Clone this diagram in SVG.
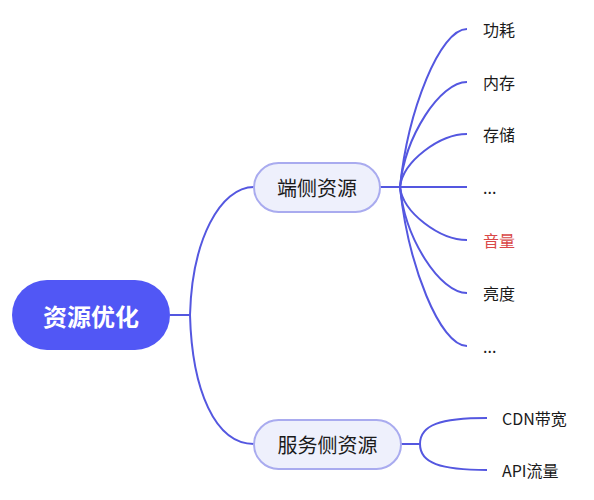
<svg xmlns="http://www.w3.org/2000/svg" width="594" height="500" viewBox="0 0 594 500">
<style>
text{font-family:"Noto Sans CJK SC","Noto Sans",sans-serif;dominant-baseline:central;}
.line{fill:none;stroke:#5457e0;stroke-width:2;}
.branch{fill:#eef0fc;stroke:#a9abef;stroke-width:2;}
.bt{font-size:20px;fill:#1a1a1a;text-anchor:middle;}
.leaf{font-size:16px;fill:#1a1a1a;}
</style>
<rect width="594" height="500" fill="#ffffff"/>
<g id="connectors">
<path class="line" d="M170,315 H190"/>
<path class="line" d="M190,315 C192,240 220,187 254,187"/>
<path class="line" d="M190,315 C192,390 215,444 254,444"/>
<path class="line" d="M380,187 H400"/>
<path class="line" d="M400,187 C408,110 440,29 467,29"/>
<path class="line" d="M400,187 C405,136 440,82 467,82"/>
<path class="line" d="M400,187 C403,161 440,134 467,134"/>
<path class="line" d="M400,187 H467"/>
<path class="line" d="M400,187 C403,213 440,240 467,240"/>
<path class="line" d="M400,187 C405,239 440,293 467,293"/>
<path class="line" d="M400,187 C408,265 440,346 467,346"/>
<path class="line" d="M401,444 H420"/>
<path class="line" d="M420,444 C420,425 440,418 487,418"/>
<path class="line" d="M420,444 C420,463 440,470 487,470"/>
</g>
<g id="root">
<rect x="12" y="280" width="158" height="70" rx="35" fill="#5157f5"/>
<text x="91" y="315" font-size="24" font-weight="bold" fill="#ffffff" text-anchor="middle">资源优化</text>
</g>
<g id="client">
<rect class="branch" x="254" y="163" width="126" height="49" rx="24.5"/>
<text class="bt" x="317" y="187.5">端侧资源</text>
</g>
<g id="server">
<rect class="branch" x="254" y="420" width="147" height="49" rx="24.5"/>
<text class="bt" x="327.5" y="444.5">服务侧资源</text>
</g>
<g id="leaf-power"><text class="leaf" x="483" y="29">功耗</text></g>
<g id="leaf-memory"><text class="leaf" x="483" y="82">内存</text></g>
<g id="leaf-storage"><text class="leaf" x="483" y="134">存储</text></g>
<g id="leaf-more1"><text class="leaf" x="483" y="187">...</text></g>
<g id="leaf-volume"><text class="leaf" x="483" y="240" fill="#d94848" style="fill:#d94848">音量</text></g>
<g id="leaf-brightness"><text class="leaf" x="483" y="293">亮度</text></g>
<g id="leaf-more2"><text class="leaf" x="483" y="346">...</text></g>
<g id="leaf-cdn"><text class="leaf" x="502" y="418">CDN带宽</text></g>
<g id="leaf-api"><text class="leaf" x="502" y="470">API流量</text></g>
</svg>
